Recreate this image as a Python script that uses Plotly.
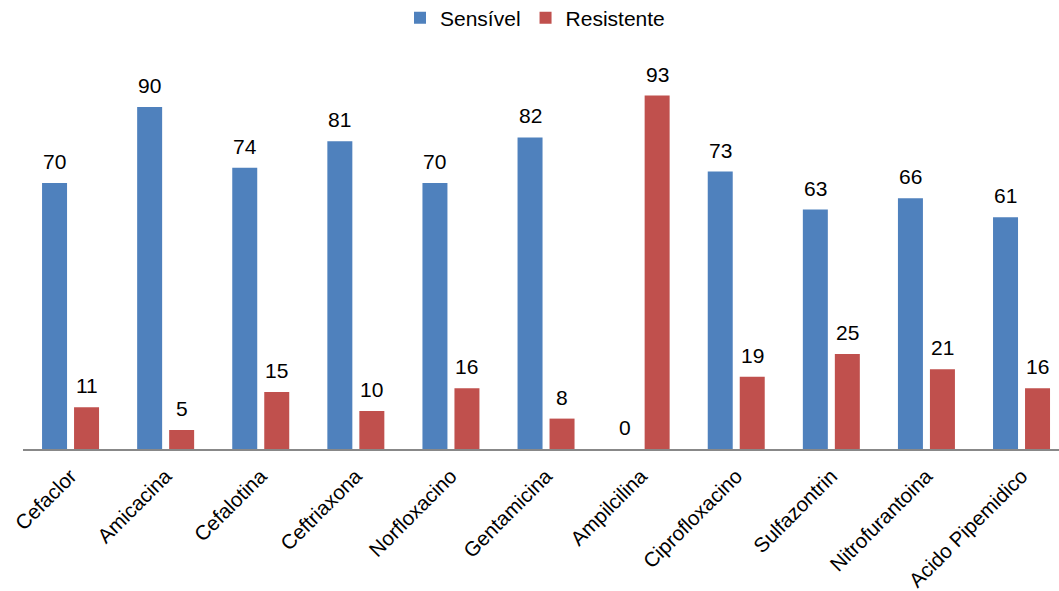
import plotly.graph_objects as go

categories = ["Cefaclor", "Amicacina", "Cefalotina", "Ceftriaxona", "Norfloxacino",
              "Gentamicina", "Ampilcilina", "Ciprofloxacino", "Sulfazontrin",
              "Nitrofurantoina", "Acido Pipemidico"]
sensivel = [70, 90, 74, 81, 70, 82, 0, 73, 63, 66, 61]
resistente = [11, 5, 15, 10, 16, 8, 93, 19, 25, 21, 16]

BLUE = "#4F81BD"
RED = "#C0504D"
FONT = "Liberation Sans, Arial, sans-serif"

W, H = 1059, 591
ML, MR, MT, MB = 23, 0, 50, 142
BARGAP = 0.327
GROUPGAP = 0.219
XR = [-0.5, 10.394]

fig = go.Figure()
fig.add_trace(go.Bar(x=categories, y=sensivel, name="Sensível",
                     marker=dict(color=BLUE, line=dict(width=0))))
fig.add_trace(go.Bar(x=categories, y=resistente, name="Resistente",
                     marker=dict(color=RED, line=dict(width=0))))

plot_w = W - ML - MR
cat_px = plot_w / (XR[1] - XR[0])
slot = (1 - BARGAP) * cat_px / 2
off = slot / 2

ann = []
for i, c in enumerate(categories):
    for val, sgn in ((sensivel[i], -1), (resistente[i], 1)):
        ann.append(dict(x=i, y=val, xref="x", yref="y", text=str(val),
                        showarrow=False, xshift=sgn * off, yshift=8,
                        yanchor="bottom", xanchor="center",
                        font=dict(family=FONT, size=21, color="#000000")))

fig.update_layout(
    width=W, height=H,
    margin=dict(l=ML, r=MR, t=MT, b=MB, autoexpand=False),
    paper_bgcolor="white", plot_bgcolor="white",
    barmode="group", bargap=BARGAP, bargroupgap=GROUPGAP,
    font=dict(family=FONT, size=21, color="#000000"),
    showlegend=True,
    legend=dict(orientation="h", x=0.5 - 6 / plot_w, xanchor="center",
                y=1 - 18 / H, yref="container", yanchor="middle",
                font=dict(family=FONT, size=21, color="#000000"),
                itemwidth=30, tracegroupgap=0, bgcolor="rgba(0,0,0,0)"),
    annotations=ann,
    xaxis=dict(type="category", range=XR, showline=True, linecolor="#888888",
               linewidth=2, ticks="", tickangle=-45, showgrid=False,
               ticklabelstandoff=5,
               tickfont=dict(family=FONT, size=20.5, color="#000000")),
    yaxis=dict(range=[0, 105], visible=False, showgrid=False, zeroline=False),
)

fig.write_html("out.html")
